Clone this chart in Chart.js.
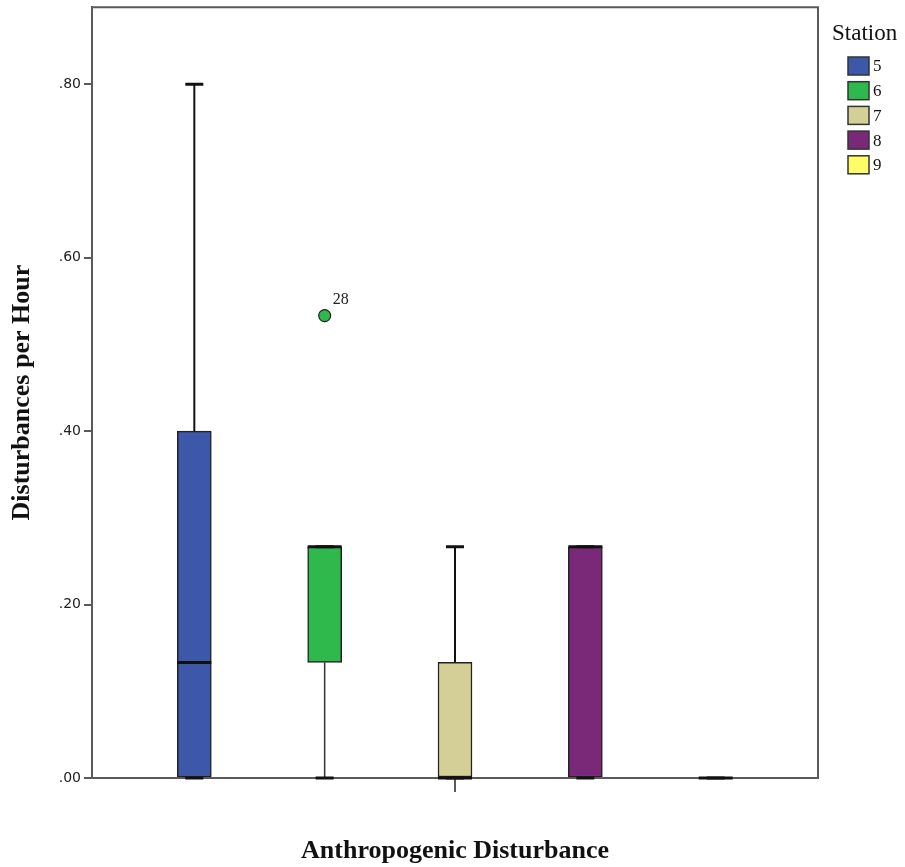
<!DOCTYPE html>
<html lang="en">
<head>
    <meta charset="UTF-8">
    <title>Disturbances per Hour</title>
    <script src="https://cdn.jsdelivr.net/npm/chart.js"></script>
    <style>
        body { margin: 0; background: #fff; }
        #wrap { width: 905px; height: 867px; }
    </style>
</head>
<body>
    <div id="wrap"><canvas id="box" width="905" height="867"></canvas></div>
    <script>
        // box plot values per station (disturbances per hour)
        const stations = ['5', '6', '7', '8', '9'];
        const mins    = [0, 0, 0, 0, 0];
        const q1s     = [0, 0.1333, 0, 0, 0];
        const medians = [0.1333, 0.2667, 0, 0.2667, 0];
        const q3s     = [0.40, 0.2667, 0.1333, 0.2667, 0];
        const maxs    = [0.80, 0.2667, 0.2667, 0.2667, 0];
        const colors  = ['#3d57a9', '#2fb84b', '#d3cf97', '#7a2979', '#fdfd68'];

        // outliers
        const outStation = ['6'];
        const outValue   = [0.5333];
        const outLabel   = ['28'];

        const yTicks = [0, 0.2, 0.4, 0.6, 0.8];

        const serif = '"Liberation Serif", "DejaVu Serif", serif';
        const sans = '"DejaVu Sans", sans-serif';
        const frameColor = '#5a5a5a';

        const boxData = stations.map((s, i) => ({ x: i + 1, y: [q1s[i], q3s[i]] }));
        const outData = outStation.map((s, i) => ({ x: stations.indexOf(s) + 1, y: outValue[i] }));

        // whiskers, medians, frame, outlier labels and legend
        const boxExtras = {
            id: 'boxExtras',
            afterDatasetsDraw(chart) {
                const ctx = chart.ctx;
                const xs = chart.scales.x, ys = chart.scales.y;
                const half = 17, cap = 9;
                ctx.save();
                stations.forEach((s, i) => {
                    const cx = xs.getPixelForValue(i + 1);
                    const yMin = ys.getPixelForValue(mins[i]);
                    const yMax = ys.getPixelForValue(maxs[i]);
                    const yQ1 = ys.getPixelForValue(q1s[i]);
                    const yQ3 = ys.getPixelForValue(q3s[i]);
                    const yMed = ys.getPixelForValue(medians[i]);
                    ctx.strokeStyle = '#111';
                    ctx.lineWidth = 2;
                    ctx.beginPath();
                    if (maxs[i] > q3s[i]) { ctx.moveTo(cx, yQ3); ctx.lineTo(cx, yMax); }
                    ctx.stroke();
                    ctx.strokeStyle = '#333';
                    ctx.lineWidth = 1.5;
                    ctx.beginPath();
                    if (mins[i] < q1s[i]) { ctx.moveTo(cx, yQ1); ctx.lineTo(cx, yMin); }
                    ctx.stroke();
                    ctx.strokeStyle = '#111';
                    ctx.lineWidth = 3;
                    ctx.beginPath();
                    ctx.moveTo(cx - cap, yMax); ctx.lineTo(cx + cap, yMax);
                    ctx.moveTo(cx - cap, yMin); ctx.lineTo(cx + cap, yMin);
                    ctx.stroke();
                    ctx.beginPath();
                    ctx.moveTo(cx - half, yMed); ctx.lineTo(cx + half, yMed);
                    ctx.stroke();
                });

                // frame on top and right
                const a = chart.chartArea;
                ctx.strokeStyle = frameColor;
                ctx.lineWidth = 2;
                ctx.beginPath();
                ctx.moveTo(a.left, a.top); ctx.lineTo(a.right, a.top); ctx.lineTo(a.right, a.bottom);
                ctx.stroke();

                // outlier case labels
                const meta = chart.getDatasetMeta(1);
                ctx.fillStyle = '#222';
                ctx.font = '16px ' + serif;
                ctx.textBaseline = 'alphabetic';
                meta.data.forEach((pt, i) => {
                    ctx.fillText(outLabel[i], pt.x + 8, pt.y - 12);
                });

                // legend
                ctx.fillStyle = '#111';
                ctx.font = '23px ' + serif;
                ctx.fillText('Station', 832, 40);
                ctx.font = '17px ' + serif;
                ctx.textBaseline = 'middle';
                stations.forEach((s, i) => {
                    const top = 57 + i * 24.7;
                    ctx.fillStyle = colors[i];
                    ctx.fillRect(848, top, 21, 18);
                    ctx.strokeStyle = '#333';
                    ctx.lineWidth = 1.5;
                    ctx.strokeRect(848, top, 21, 18);
                    ctx.fillStyle = '#111';
                    ctx.fillText(s, 873, top + 10);
                });
                ctx.restore();
            }
        };

        new Chart(document.getElementById('box'), {
            type: 'bar',
            data: {
                datasets: [
                    {
                        label: 'Station',
                        data: boxData,
                        backgroundColor: colors,
                        borderColor: '#222',
                        borderWidth: 1.5,
                        borderSkipped: false,
                        barThickness: 34,
                        order: 2
                    },
                    {
                        type: 'scatter',
                        label: 'Outliers',
                        data: outData,
                        backgroundColor: outStation.map(s => colors[stations.indexOf(s)]),
                        borderColor: '#222',
                        borderWidth: 1.2,
                        pointRadius: 6,
                        order: 1
                    }
                ]
            },
            options: {
                responsive: false,
                animation: false,
                layout: { padding: { top: 5.5, right: 87, left: 0, bottom: 0 } },
                plugins: {
                    legend: { display: false },
                    tooltip: { enabled: false }
                },
                scales: {
                    x: {
                        type: 'linear',
                        offset: false,
                        min: 0.215,
                        max: 5.785,
                        afterBuildTicks: scale => { scale.ticks = [{ value: 3 }]; },
                        afterFit: scale => { scale.height = 89; scale.paddingLeft = 0; scale.paddingRight = 0; },
                        ticks: { callback: () => '', padding: 0 },
                        grid: { offset: false, drawOnChartArea: false, drawTicks: true, tickLength: 14, color: frameColor, lineWidth: 2 },
                        border: { display: true, color: frameColor, width: 2 },
                        title: {
                            display: true,
                            text: 'Anthropogenic Disturbance',
                            color: '#111',
                            font: { family: serif, size: 26, weight: 'bold' },
                            padding: { top: 0, bottom: 0 }
                        }
                    },
                    y: {
                        min: 0,
                        max: 0.889,
                        afterBuildTicks: scale => { scale.ticks = yTicks.map(v => ({ value: v })); },
                        afterFit: scale => { scale.width = 92; scale.paddingTop = 0; scale.paddingBottom = 0; },
                        ticks: {
                            callback: v => v.toFixed(2).replace(/^0/, ''),
                            color: '#222',
                            font: { family: sans, size: 14 },
                            padding: 3
                        },
                        grid: { drawOnChartArea: false, drawTicks: true, tickLength: 8, color: frameColor, lineWidth: 2 },
                        border: { display: true, color: frameColor, width: 2 },
                        title: {
                            display: true,
                            text: 'Disturbances per Hour',
                            color: '#111',
                            font: { family: serif, size: 26, weight: 'bold' },
                            padding: { top: 7, bottom: 0 }
                        }
                    }
                }
            },
            plugins: [boxExtras]
        });
    </script>
</body>
</html>
